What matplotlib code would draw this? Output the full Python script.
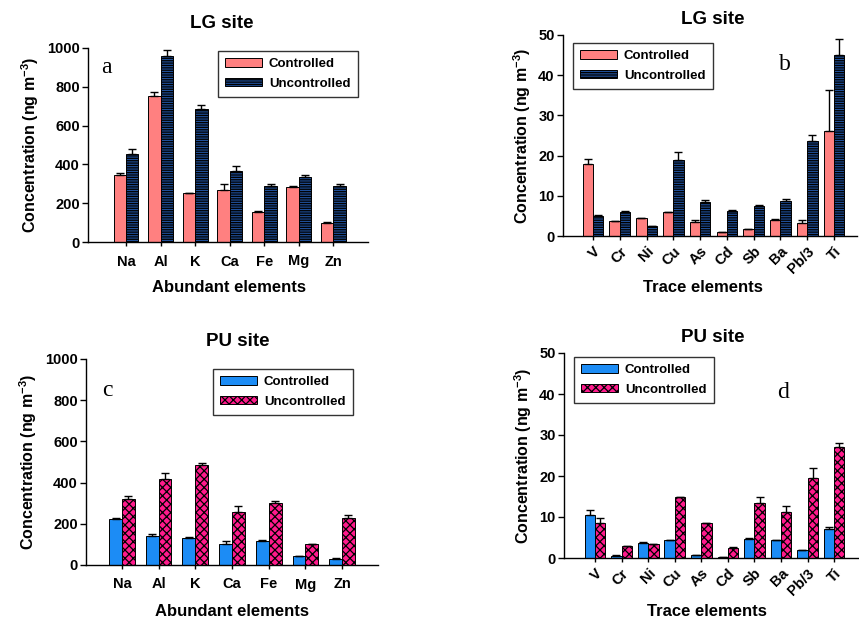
import numpy as np
import matplotlib
matplotlib.use("Agg")
import matplotlib.pyplot as plt

plt.rcParams['font.family'] = ['Liberation Sans', 'DejaVu Sans']
plt.rcParams['font.weight'] = 'bold'
plt.rcParams['mathtext.fontset'] = 'custom'
plt.rcParams['mathtext.bf'] = 'Liberation Sans:bold'
plt.rcParams['mathtext.rm'] = 'Liberation Sans:bold'
plt.rcParams['mathtext.default'] = 'bf'
plt.rcParams['hatch.linewidth'] = 0.9

# ---- data ----
abundant = ['Na', 'Al', 'K', 'Ca', 'Fe', 'Mg', 'Zn']
trace = ['V', 'Cr', 'Ni', 'Cu', 'As', 'Cd', 'Sb', 'Ba', 'Pb/3', 'Ti']

lg_ab_ctrl = [346, 752, 250, 270, 155, 284, 99]
lg_ab_ctrl_err = [12, 22, 4, 28, 6, 5, 4]
lg_ab_unc = [455, 957, 683, 365, 291, 336, 289]
lg_ab_unc_err = [23, 31, 22, 29, 8, 7, 10]

lg_tr_ctrl = [17.8, 3.7, 4.4, 5.9, 3.6, 1.0, 1.7, 4.1, 3.2, 26.0]
lg_tr_ctrl_err = [1.4, 0.1, 0.1, 0.1, 0.4, 0.1, 0.1, 0.1, 0.8, 10.2]
lg_tr_unc = [4.9, 5.9, 2.4, 19.0, 8.4, 6.3, 7.4, 8.8, 23.7, 45.1]
lg_tr_unc_err = [0.2, 0.2, 0.1, 1.9, 0.6, 0.2, 0.2, 0.3, 1.5, 3.9]

pu_ab_ctrl = [222, 143, 133, 102, 117, 42, 31]
pu_ab_ctrl_err = [5, 8, 3, 16, 3, 3, 3]
pu_ab_unc = [319, 417, 485, 258, 303, 100, 230]
pu_ab_unc_err = [16, 29, 12, 26, 10, 4, 13]

pu_tr_ctrl = [10.4, 0.6, 3.7, 4.3, 0.7, 0.3, 4.7, 4.4, 1.9, 7.1]
pu_tr_ctrl_err = [1.3, 0.05, 0.1, 0.1, 0.05, 0.05, 0.2, 0.1, 0.1, 0.5]
pu_tr_unc = [8.5, 2.9, 3.4, 14.8, 8.5, 2.5, 13.4, 11.1, 19.4, 27.1]
pu_tr_unc_err = [1.2, 0.1, 0.1, 0.1, 0.1, 0.1, 1.4, 1.5, 2.6, 1.0]

W, H = 859, 621
fig = plt.figure(figsize=(W / 100, H / 100), dpi=100)

def ax_px(l, r, t, b):
    return fig.add_axes([l / W, (H - b) / H, (r - l) / W, (b - t) / H])

def ftext(x, y, s, **kw):
    fig.text(x / W, 1 - y / H, s, ha='center', va='center', **kw)

LG_C = dict(facecolor='#FF8080', edgecolor='black', linewidth=0.7)
LG_U = dict(facecolor='#1F4F99', edgecolor='black', linewidth=0.7, hatch='-------')
PU_C = dict(facecolor='#1C8CF5', edgecolor='black', linewidth=0.7)
PU_U = dict(facecolor='#FF1A8C', edgecolor='black', linewidth=0.7, hatch='xxxx')

def panel(ax, cats, c, ce, u, ue, sc, su, ymax, xlim, bw, letter, lpos,
          rotate, legloc):
    x = np.arange(len(cats))
    ek = dict(ecolor='black', elinewidth=1.0, capsize=3, capthick=1.0)
    ax.bar(x - bw / 2, c, bw, yerr=[np.zeros(len(c)), ce], error_kw=ek,
           label='Controlled', **sc)
    ax.bar(x + bw / 2, u, bw, yerr=[np.zeros(len(u)), ue], error_kw=ek,
           label='Uncontrolled', **su)
    ax.set_xlim(*xlim)
    ax.set_ylim(0, ymax)
    ax.set_yticks(np.linspace(0, ymax, 6))
    ax.spines['top'].set_visible(False)
    ax.spines['right'].set_visible(False)
    ax.spines['left'].set_linewidth(1.0)
    ax.spines['bottom'].set_linewidth(1.0)
    ax.tick_params(axis='y', labelsize=10.5, length=4, width=1.0, pad=2)
    ax.tick_params(axis='x', labelsize=10.5, length=3, width=1.0, pad=6)
    ax.set_xticks(x)
    if rotate:
        ax.set_xticklabels(cats, rotation=45, ha='right', va='top',
                           rotation_mode='anchor')
        ax.tick_params(axis='x', pad=3)
    else:
        ax.set_xticklabels(cats)
    ax.set_ylabel('Concentration (ng m$^{-3}$)', fontsize=11.5, fontweight='bold',
                  labelpad=4)
    ax.text(lpos[0], lpos[1], letter, transform=ax.transAxes,
            fontsize=17, family='Liberation Serif', fontweight='normal',
            ha='center', va='center')
    leg = ax.legend(loc='upper left', bbox_to_anchor=legloc, fontsize=9.5,
                    handlelength=2.8, handleheight=0.6, handletextpad=0.5,
                    labelspacing=0.55, borderpad=0.55, borderaxespad=0,
                    frameon=True, fancybox=False, edgecolor='black')
    leg.get_frame().set_linewidth(1.0)
    for t in leg.get_texts():
        t.set_fontweight('bold')

ax_a = ax_px(88, 368, 48, 242)
panel(ax_a, abundant, lg_ab_ctrl, lg_ab_ctrl_err, lg_ab_unc, lg_ab_unc_err,
      LG_C, LG_U, 1000, (-1.1, 7.0), 0.36, 'a', (0.065, 0.9),
      False, ((218 - 88) / 280, 1 - (51 - 48) / 194))

ax_b = ax_px(563, 857, 35, 236)
panel(ax_b, trace, lg_tr_ctrl, lg_tr_ctrl_err, lg_tr_unc, lg_tr_unc_err,
      LG_C, LG_U, 50, (-1.12, 9.86), 0.385, 'b', ((785 - 563) / 294, 1 - (65 - 35) / 201),
      True, ((573 - 563) / 294, 1 - (43 - 35) / 201))

ax_c = ax_px(86, 378, 359, 565)
panel(ax_c, abundant, pu_ab_ctrl, pu_ab_ctrl_err, pu_ab_unc, pu_ab_unc_err,
      PU_C, PU_U, 1000, (-0.98, 6.98), 0.35, 'c', ((107 - 86) / 292, 1 - (390 - 359) / 206),
      False, ((213 - 86) / 292, 1 - (369 - 359) / 206))

ax_d = ax_px(564, 858, 353, 558)
panel(ax_d, trace, pu_tr_ctrl, pu_tr_ctrl_err, pu_tr_unc, pu_tr_unc_err,
      PU_C, PU_U, 50, (-1.17, 9.9), 0.39, 'd', ((783 - 564) / 294, 1 - (392 - 353) / 205),
      True, ((574 - 564) / 294, 1 - (357 - 353) / 205))

# titles
ftext(222, 23, 'LG site', fontsize=13.5, fontweight='bold')
ftext(713, 19, 'LG site', fontsize=13.5, fontweight='bold')
ftext(238, 342, 'PU site', fontsize=13.5, fontweight='bold')
ftext(713, 338, 'PU site', fontsize=13.5, fontweight='bold')
# x labels
ftext(229, 287, 'Abundant elements', fontsize=12, fontweight='bold')
ftext(703, 287, 'Trace elements', fontsize=12, fontweight='bold')
ftext(232, 611, 'Abundant elements', fontsize=12, fontweight='bold')
ftext(707, 611, 'Trace elements', fontsize=12, fontweight='bold')

fig.savefig('out.png', dpi=100)
